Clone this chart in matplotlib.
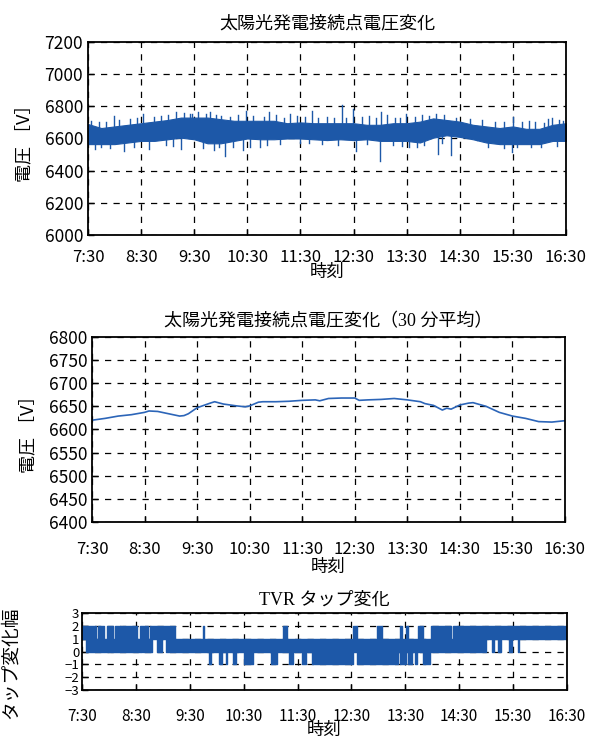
import matplotlib
matplotlib.use("Agg")
import matplotlib.pyplot as plt
import numpy as np

JP = ['Noto Sans CJK JP', 'DejaVu Sans']
plt.rcParams['font.family'] = JP

# ---------------- data ----------------
x_ticklabels = ["7:30", "8:30", "9:30", "10:30", "11:30", "12:30", "13:30", "14:30", "15:30", "16:30"]
x_ticks_min = [0, 60, 120, 180, 240, 300, 360, 420, 480, 540]   # minutes after 7:30

# Top panel: dense voltage band (envelope read every 15 min)
band_t = [0, 15, 30, 45, 60, 75, 90, 105, 120, 135, 150, 165, 180, 195, 210, 225, 240, 255,
          270, 285, 300, 315, 330, 345, 360, 375, 390, 405, 420, 435, 450, 465, 480, 495,
          510, 525, 540]
band_lo = [6565, 6565, 6565, 6575, 6585, 6585, 6595, 6605, 6595, 6570, 6570, 6585, 6600, 6595,
           6595, 6600, 6600, 6595, 6590, 6595, 6590, 6595, 6585, 6585, 6585, 6575, 6605, 6620,
           6610, 6595, 6575, 6565, 6565, 6565, 6565, 6585, 6585]
band_hi = [6690, 6665, 6675, 6685, 6695, 6705, 6715, 6730, 6730, 6730, 6720, 6710, 6710, 6710,
           6710, 6695, 6700, 6695, 6695, 6695, 6695, 6685, 6685, 6695, 6695, 6705, 6725, 6715,
           6705, 6685, 6675, 6665, 6675, 6660, 6660, 6685, 6695]
# isolated spikes (minute, voltage)
spike_t = [29, 62, 99, 108, 124, 138, 179, 205, 228, 253, 287, 299, 331, 359, 393, 480, 524,
           8, 41, 69, 105, 130, 155, 194, 217, 264, 303, 330, 363, 395, 410, 452, 479,
           3, 12, 20, 35, 48, 55, 75, 83, 90, 115, 118, 133, 145, 150, 160, 170, 186, 199, 212,
           222, 236, 245, 260, 270, 278, 292, 310, 318, 325, 338, 347, 352, 370, 377, 385, 402,
           416, 432, 445, 460, 470, 490, 498, 505, 515, 520, 532, 537,
           15, 25, 52, 88, 96, 142, 148, 164, 175, 183, 202, 240, 250, 282, 315, 345, 355, 372,
           380, 400, 440, 470, 485, 500, 512, 530]
spike_v = [6737, 6754, 6764, 6758, 6764, 6764, 6774, 6764, 6754, 6774, 6808, 6785, 6764, 6754,
           6754, 6733, 6729,
           6536, 6525, 6536, 6536, 6540, 6490, 6546, 6567, 6567, 6525, 6459, 6546, 6505, 6498,
           6546, 6519,
           6710, 6705, 6700, 6715, 6720, 6725, 6735, 6740, 6745, 6750, 6755, 6750, 6745, 6740,
           6735, 6745, 6740, 6735, 6745, 6730, 6740, 6735, 6730, 6735, 6725, 6730, 6735, 6740,
           6730, 6745, 6725, 6730, 6735, 6745, 6740, 6745, 6730, 6720, 6715, 6705, 6700, 6705,
           6710, 6700, 6695, 6720, 6715, 6710,
           6545, 6540, 6550, 6560, 6555, 6530, 6550, 6545, 6530, 6550, 6560, 6575, 6570, 6560,
           6565, 6560, 6555, 6550, 6560, 6570, 6590, 6540, 6545, 6545, 6550, 6555]

# Middle panel: 30-minute moving average
avg_t = [0, 15, 30, 45, 60, 65, 75, 90, 100, 105, 110, 120, 135, 140, 150, 165, 175, 180, 190,
         195, 210, 225, 240, 255, 260, 270, 285, 300, 305, 315, 330, 345, 360, 375, 380, 390,
         400, 405, 410, 420, 430, 435, 450, 465, 480, 495, 510, 525, 540]
avg_v = [6620, 6624, 6629, 6632, 6637, 6640, 6639, 6633, 6629, 6630, 6634, 6647, 6657, 6660,
         6655, 6651, 6649, 6651, 6659, 6660, 6660, 6661, 6663, 6664, 6662, 6667, 6668, 6668,
         6663, 6664, 6665, 6667, 6664, 6660, 6656, 6652, 6642, 6646, 6644, 6653, 6657, 6658,
         6650, 6637, 6629, 6624, 6617, 6616, 6619]

# Bottom panel: TVR tap position range (segment start minute, low tap, high tap)
tap_t = [0, 4, 16, 18, 24, 28, 30, 31, 35, 37, 43, 45, 56, 57, 61, 65, 67, 68, 73, 76, 78, 83,
         89, 94, 104, 135, 136, 141, 144, 152, 156, 160, 162, 168, 172, 180, 190, 210, 217,
         224, 228, 231, 235, 245, 249, 256, 302, 306, 328, 334, 335, 352, 354, 356, 361, 363,
         367, 371, 373, 374, 380, 387, 389, 411, 413, 446, 448, 450, 456, 459, 463, 467, 476,
         479, 485, 487, 540]
tap_lo = [1, 0, 0, 0, 0, 0, 1, 0, 0, 0, 0, 0, 1, 0, 0, 0, 1, 0, 0, 0, 1, 0,
          1, 0, 0, 0, 0, -1, 0, -1, 0, -1, 0, -1, 0, -1, 0, -1, 0,
          0, 0, -1, 0, -1, 0, -1, 0, -1, -1, -1, -1, 0, -1, -1, 0, -1,
          0, -1, 0, 0, -1, 0, 0, 0, 0, 0, 0, 1, 0, 1, 0, 1, 0,
          1, 0, 1, 1]
tap_hi = [2, 2, 1, 2, 1, 2, 2, 2, 1, 2, 1, 2, 2, 2, 1, 2, 2, 2, 1, 2, 2, 2,
          2, 2, 1, 2, 1, 1, 1, 1, 1, 1, 1, 1, 1, 1, 1, 1, 1,
          2, 1, 1, 1, 1, 1, 1, 2, 1, 2, 1, 1, 1, 2, 1, 2, 1,
          1, 1, 1, 2, 1, 1, 2, 1, 2, 1, 2, 2, 2, 2, 2, 2, 2,
          2, 2, 2, 2]

BLUE = '#1d58a8'

fig = plt.figure(figsize=(5.89, 7.38), dpi=100)


def style_axes(ax, xtick_fs, ytick_fs, xpad):
    ax.set_xlim(0, 540)
    ax.set_xticks(x_ticks_min)
    ax.set_xticklabels(x_ticklabels, fontsize=xtick_fs)
    ax.tick_params(axis='both', direction='in', length=4, width=1, labelsize=ytick_fs, colors='black')
    ax.tick_params(axis='x', labelsize=xtick_fs, pad=xpad)
    ax.grid(True, color='black', linestyle=(0, (5, 5)), linewidth=0.9)
    ax.set_axisbelow(True)
    for s in ax.spines.values():
        s.set_linewidth(1.3)
        s.set_color('black')


# ---- top ----
ax1 = fig.add_axes([0.1494, 0.6816, 0.8115, 0.2615])
ax1.fill_between(band_t, band_lo, band_hi, color=BLUE, linewidth=0.8, edgecolor=BLUE)
band_mid = (np.array(band_lo) + np.array(band_hi)) / 2
for t, v in zip(spike_t, spike_v):
    base = np.interp(t, band_t, band_mid)
    ax1.plot([t, t], [base, v], color=BLUE, linewidth=1.0)
ax1.set_ylim(6000, 7200)
ax1.set_yticks(range(6000, 7201, 200))
style_axes(ax1, 12, 12.5, 10)
ax1.set_title('太陽光発電接続点電圧変化', fontsize=13, pad=10)
ax1.set_xlabel('時刻', fontsize=12.5, labelpad=-2)
ax1.set_ylabel('電圧 ［V］', fontsize=13, labelpad=8)

# ---- middle ----
ax2 = fig.add_axes([0.1562, 0.2927, 0.803, 0.2507])
ax2.plot(avg_t, avg_v, color='#2c65b8', linewidth=1.2)
ax2.set_ylim(6400, 6800)
ax2.set_yticks(range(6400, 6801, 50))
style_axes(ax2, 12, 12.5, 14)
ax2.set_title('太陽光発電接続点電圧変化（30 分平均）', fontsize=13, pad=8,
              family=['Liberation Serif', 'Noto Sans CJK JP'])
ax2.set_xlabel('時刻', fontsize=12.5, labelpad=0)
ax2.set_ylabel('電圧 ［V］', fontsize=13, labelpad=8)

# ---- bottom ----
ax3 = fig.add_axes([0.1392, 0.065, 0.8234, 0.1043])
ax3.fill_between(tap_t, tap_lo, tap_hi, step='post', color=BLUE, linewidth=0)
ax3.step(tap_t, tap_lo, where='post', color=BLUE, linewidth=1.0)
ax3.step(tap_t, tap_hi, where='post', color=BLUE, linewidth=1.0)
ax3.set_ylim(-3, 3)
ax3.set_yticks(range(-3, 4))
ax3.set_yticklabels([str(v).replace('-', '−') for v in range(-3, 4)])
style_axes(ax3, 11, 9.5, 13)
ax3.tick_params(axis='y', pad=2)
ax3.set_title('TVR タップ変化', fontsize=13, pad=6,
              family=['Liberation Serif', 'Noto Sans CJK JP'])
ax3.set_xlabel('時刻', fontsize=12.5, labelpad=-3)
ax3.set_ylabel('タップ変化幅', fontsize=13.5)
ax3.yaxis.set_label_coords(-0.125, 0.35)

fig.savefig('out.png', dpi=100)
